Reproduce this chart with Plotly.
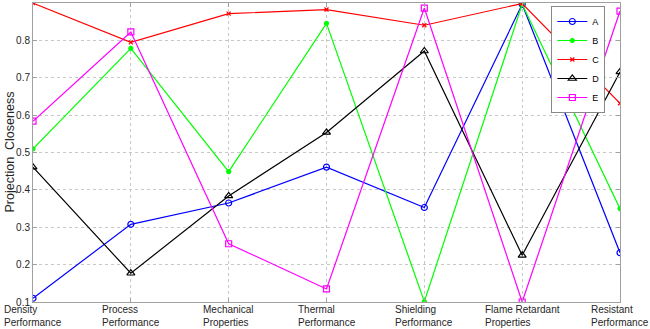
import plotly.graph_objects as go

categories = ["Density<br>Performance", "Process<br>Performance", "Mechanical<br>Properties",
              "Thermal<br>Performance", "Shielding<br>Performance", "Flame Retardant<br>Properties",
              "Resistant<br>Performance"]
A = [0.110, 0.308, 0.365, 0.461, 0.353, 0.897, 0.232]
B = [0.510, 0.779, 0.449, 0.846, 0.101, 0.897, 0.350]
C = [0.900, 0.795, 0.872, 0.883, 0.841, 0.899, 0.632]
D = [0.461, 0.177, 0.384, 0.554, 0.772, 0.225, 0.716]
E = [0.584, 0.823, 0.256, 0.135, 0.887, 0.100, 0.879]
y_ticks = [0.1, 0.2, 0.3, 0.4, 0.5, 0.6, 0.7, 0.8, 0.9]

series = [
    ("A", A, "#0000ff", "circle-open", 6),
    ("B", B, "#00ff00", "circle", 4),
    ("C", C, "#ff0000", "x-thin-open", 4),
    ("D", D, "#000000", "triangle-up-open", 7),
    ("E", E, "#ff00ff", "square-open", 6),
]

xs = list(range(len(categories)))
fig = go.Figure()
for name, vals, col, sym, sz in series:
    fig.add_trace(go.Scatter(
        x=xs, y=vals, name=name, mode="lines+markers",
        line=dict(color=col, width=1.2),
        marker=dict(symbol=sym, size=sz, color=col, line=dict(color=col, width=1.2)),
    ))

font = "Liberation Sans, Arial, sans-serif"
for i, lab in enumerate(categories):
    fig.add_annotation(x=i, y=0, xref="x", yref="paper", yanchor="top", xanchor="center",
                       yshift=0, text=lab, align="left", showarrow=False,
                       font=dict(family=font, size=10, color="#262626"))

fig.add_annotation(x=0, y=0.5, xref="paper", yref="paper", xanchor="left", yanchor="middle",
                   xshift=-33, text="Projection  Closeness", textangle=-90, showarrow=False,
                   font=dict(family=font, size=12.5, color="#262626"))

fig.update_layout(
    width=650, height=329,
    margin=dict(l=33, r=30, t=3, b=27),
    paper_bgcolor="white", plot_bgcolor="white",
    font=dict(family=font, size=10, color="#262626"),
    showlegend=True,
    legend=dict(x=0.975, y=0.99, xanchor="right", yanchor="top",
                bgcolor="white", bordercolor="#888888", borderwidth=1,
                font=dict(size=9, color="#000000"), tracegroupgap=0,
                itemwidth=30),
)
fig.update_xaxes(range=[0, 6], tickvals=xs, showticklabels=False,
                 showgrid=True, gridcolor="#c8c8c8", griddash="dot", gridwidth=1,
                 showline=True, linecolor="#a0a0a0", linewidth=1, mirror="ticks",
                 ticks="inside", ticklen=4, tickcolor="#a0a0a0", zeroline=False)
fig.update_yaxes(range=[0.1, 0.9005], tickvals=y_ticks, tickformat=".1f",
                 showgrid=True, gridcolor="#c8c8c8", griddash="dot", gridwidth=1,
                 showline=True, linecolor="#a0a0a0", linewidth=1, mirror="ticks",
                 ticks="inside", ticklen=4, tickcolor="#a0a0a0", zeroline=False)

fig.write_html("out.html", config={"displayModeBar": False},
               post_script="document.body.style.margin='0px';")
